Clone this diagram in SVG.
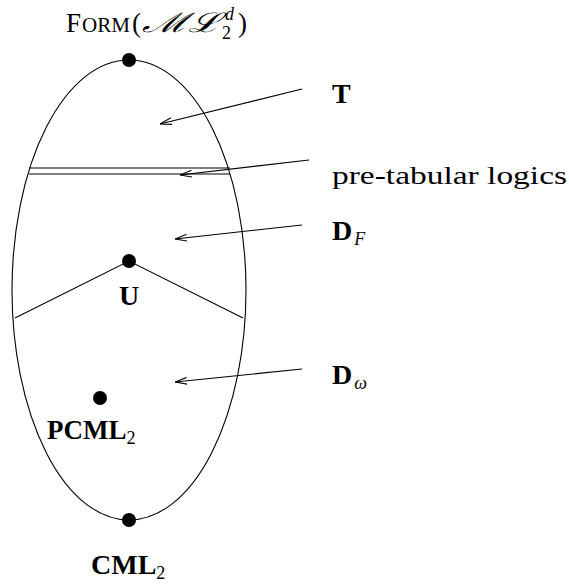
<svg xmlns="http://www.w3.org/2000/svg" width="569" height="588" viewBox="0 0 569 588">
<defs>
<style>
.ln{fill:none;stroke:#000;stroke-width:1.1}
.dot{fill:#000}
.lb{font-family:"Liberation Serif","DejaVu Serif",serif;fill:#000}
.b{font-weight:bold}
.it{font-style:italic}
</style>
<marker id="ah" viewBox="0 0 12 8" refX="12" refY="4" markerWidth="12" markerHeight="8" markerUnits="userSpaceOnUse" orient="auto">
<path d="M0,0.6 L12,4 L0,7.4" fill="none" stroke="#000" stroke-width="1.1"/>
</marker>
</defs>
<rect width="569" height="588" fill="#fff"/>
<g id="region">
<ellipse class="ln" cx="129" cy="290" rx="117" ry="230"/>
<line class="ln" x1="29" y1="168" x2="230" y2="168"/>
<line class="ln" x1="29" y1="174" x2="230" y2="174"/>
<polyline class="ln" points="15,318 129,261 243,318"/>
</g>
<g id="connectors">
<line class="ln" x1="302" y1="89" x2="160" y2="124" marker-end="url(#ah)"/>
<line class="ln" x1="309" y1="160" x2="180" y2="175" marker-end="url(#ah)"/>
<line class="ln" x1="302" y1="225" x2="175" y2="239" marker-end="url(#ah)"/>
<line class="ln" x1="302" y1="369" x2="175" y2="382" marker-end="url(#ah)"/>
</g>
<g id="form">
<circle class="dot" cx="129" cy="60" r="7"/>
<text class="lb" x="66" y="32" font-size="27">F</text>
<text class="lb" x="82" y="32" font-size="21" textLength="48" lengthAdjust="spacingAndGlyphs">ORM</text>
<text class="lb" x="132" y="32" font-size="27">(</text>
<text class="lb it" x="142" y="32" font-size="27" textLength="78" lengthAdjust="spacingAndGlyphs">ℳℒ</text>
<text class="lb it" x="225" y="20" font-size="18">d</text>
<text class="lb" x="222" y="39" font-size="18">2</text>
<text class="lb" x="238" y="32" font-size="27">)</text>
</g>
<g id="T"><text class="lb b" x="332" y="103" font-size="28">T</text></g>
<g id="pretab"><text class="lb" x="332" y="184" font-size="25" textLength="235" lengthAdjust="spacingAndGlyphs">pre-tabular logics</text></g>
<g id="DF"><text class="lb b" x="332" y="240" font-size="28">D<tspan class="it" font-weight="normal" font-size="18" dy="5" dx="2">F</tspan></text></g>
<g id="U"><circle class="dot" cx="129" cy="261" r="7"/><text class="lb b" x="129" y="305" text-anchor="middle" font-size="28">U</text></g>
<g id="Dw"><text class="lb b" x="332" y="384" font-size="28">D<tspan class="it" font-weight="normal" font-size="18" dy="5" dx="2">ω</tspan></text></g>
<g id="PCML2"><circle class="dot" cx="100" cy="398" r="7"/><text class="lb b" x="47" y="439" font-size="27">PCML<tspan font-weight="normal" font-size="18" dy="5">2</tspan></text></g>
<g id="CML2"><circle class="dot" cx="129" cy="520" r="7"/><text class="lb b" x="91" y="574" font-size="28">CML<tspan font-weight="normal" font-size="18" dy="5">2</tspan></text></g>
</svg>
